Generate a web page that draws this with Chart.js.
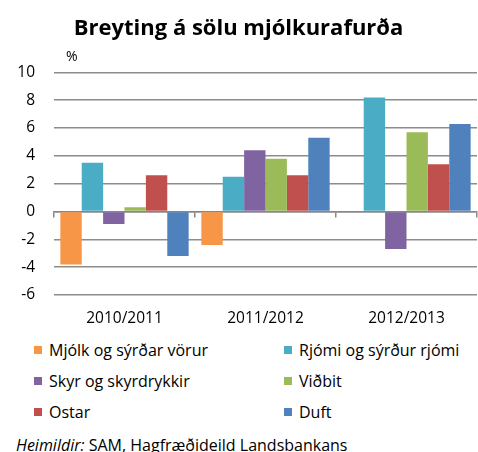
<!DOCTYPE html>
<html>
<head>
<meta charset="utf-8">
<script src="https://cdn.jsdelivr.net/npm/chart.js@4"></script>
<style>
  body { margin: 0; background: #fff; font-family: 'Open Sans', sans-serif; }
  #wrap { position: relative; width: 478px; height: 452px; overflow: hidden; }
  #legend { position: absolute; left: 34px; top: 340px; width: 440px;
    display: grid; grid-template-columns: 250px 190px; row-gap: 12px; font-size: 16px; color: #000; }
  .item { display: flex; align-items: center; height: 19px; white-space: nowrap; }
  .box { width: 8px; height: 8px; margin-right: 7px; }
  #source { position: absolute; left: 16px; top: 435px; font-size: 16px; line-height: 20px; color: #000; white-space: nowrap; }
</style>
</head>
<body>
<div id="wrap">
  <canvas id="grafico" width="478" height="330"></canvas>
  <div id="legend"></div>
  <div id="source"><i>Heimildir:</i> SAM, Hagfræðideild Landsbankans</div>
</div>
<script>
const tituloGrafico = 'Breyting á sölu mjólkurafurða';
const periodos = ['2010/2011', '2011/2012', '2012/2013'];

const mjolk = [-3.8, -2.4, 0];
const rjomi = [3.5, 2.5, 8.2];
const skyr = [-0.9, 4.4, -2.7];
const vidbit = [0.3, 3.8, 5.7];
const ostar = [2.6, 2.6, 3.4];
const duft = [-3.2, 5.3, 6.3];

const nomes = ['Mjólk og sýrðar vörur', 'Rjómi og sýrður rjómi', 'Skyr og skyrdrykkir', 'Viðbit', 'Ostar', 'Duft'];
const cores = ['#F79646', '#4BACC6', '#8064A2', '#9BBB59', '#C0504D', '#4F81BD'];
const series = [mjolk, rjomi, skyr, vidbit, ostar, duft];

const yMin = -6, yMax = 10, yPasso = 2;
const fonte = 'Open Sans';

// unidade "%" acima do eixo
const rotuloPct = {
  id: 'rotuloPct',
  afterDraw(chart) {
    const { ctx, chartArea } = chart;
    ctx.save();
    ctx.font = `14px "${fonte}"`;
    ctx.fillStyle = '#000';
    ctx.textAlign = 'left';
    ctx.textBaseline = 'middle';
    ctx.fillText('%', chartArea.left + 12, chartArea.top - 15);
    ctx.restore();
  }
};

const ctx = document.getElementById('grafico').getContext('2d');
const grafico = new Chart(ctx, {
  type: 'bar',
  data: {
    labels: periodos,
    datasets: series.map((dados, i) => ({
      label: nomes[i],
      data: dados,
      backgroundColor: cores[i],
      borderWidth: 0,
      xAxisID: 'x'
    }))
  },
  options: {
    responsive: false,
    animation: false,
    layout: { padding: { left: 0, right: 1, top: 0, bottom: 0 } },
    datasets: { bar: { categoryPercentage: 0.91, barPercentage: 1 } },
    plugins: {
      legend: { display: false },
      tooltip: { enabled: false },
      title: {
        display: true,
        text: tituloGrafico,
        color: '#000',
        font: { family: fonte, size: 22, weight: 'bold' },
        padding: { top: 16, bottom: 30 }
      }
    },
    scales: {
      x: {
        grid: { display: false, drawTicks: false },
        border: { display: false },
        ticks: { color: '#000', font: { family: fonte, size: 15.5 }, padding: 14 },
        afterFit: s => { s.height = 35; }
      },
      x2: {
        type: 'category',
        labels: periodos,
        position: { y: 0 },
        offset: true,
        grid: { offset: true, drawOnChartArea: false, drawTicks: true, tickLength: 5, color: '#888', lineWidth: 1.5 },
        border: { display: true, color: '#888', width: 1.5 },
        ticks: { display: false }
      },
      y: {
        min: yMin,
        max: yMax,
        ticks: { stepSize: yPasso, color: '#000', font: { family: fonte, size: 15.5 }, padding: 19 },
        grid: { color: '#8c8c8c', lineWidth: 1.5, drawTicks: false },
        border: { display: false },
        afterFit: s => { s.width = 54; }
      }
    }
  },
  plugins: [rotuloPct]
});

// legenda em duas colunas, montada a partir dos datasets
const legenda = document.getElementById('legend');
grafico.data.datasets.forEach(ds => {
  const item = document.createElement('div');
  item.className = 'item';
  item.innerHTML = `<span class="box" style="background:${ds.backgroundColor}"></span>${ds.label}`;
  legenda.appendChild(item);
});
</script>
</body>
</html>
